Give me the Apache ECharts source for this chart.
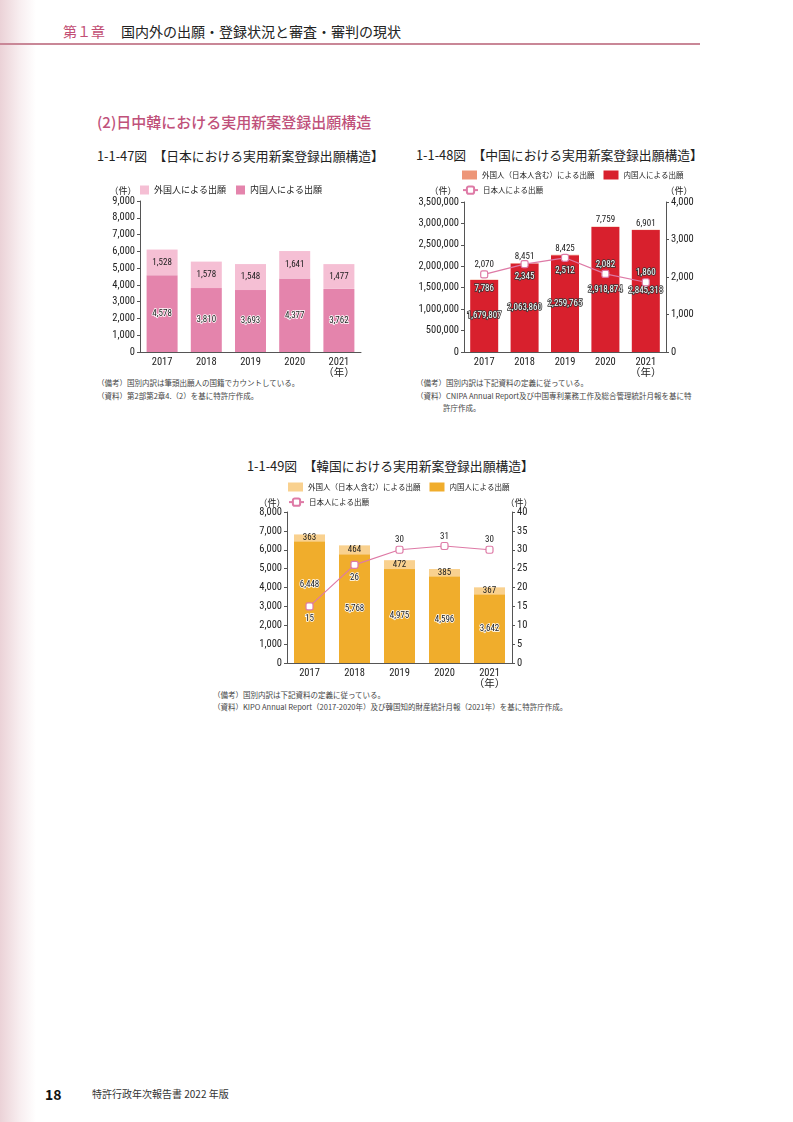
<!DOCTYPE html>
<html><head><meta charset="utf-8">
<script src="https://cdn.jsdelivr.net/npm/echarts@6/dist/echarts.min.js"></script>
<style>
html,body{margin:0;padding:0;background:#fff;}
#page{position:relative;width:793px;height:1122px;overflow:hidden;font-family:"Noto Sans CJK JP",sans-serif;color:#222;}
.t{position:absolute;white-space:nowrap;line-height:1;}
#strip{position:absolute;left:0;top:0;width:36px;height:1122px;background:linear-gradient(to right,#ebd2d7,#f8eef0 55%,#fff);}
#rule{position:absolute;left:0;top:43px;width:700px;height:1.5px;background:#c98797;}
#chart{position:absolute;left:0;top:0;width:793px;height:1122px;}
.note{font-size:7.5px;color:#444;}
.ttl{font-size:12.8px;color:#222;}
</style></head>
<body>
<div id="page">
  <div id="strip"></div>
  <div class="t" style="left:63px;top:24px;font-size:14px;color:#c24e74;">第１章</div>
  <div class="t" style="left:121px;top:24px;font-size:14px;color:#222;">国内外の出願・登録状況と審査・審判の現状</div>
  <div id="rule"></div>
  <div class="t" style="left:97px;top:114px;font-size:15px;color:#c0517a;font-weight:500;">(2)日中韓における実用新案登録出願構造</div>

  <div class="t ttl" style="left:97px;top:150px;">1-1-47図　【日本における実用新案登録出願構造】</div>
  <div class="t ttl" style="left:416px;top:149px;">1-1-48図　【中国における実用新案登録出願構造】</div>
  <div class="t ttl" style="left:247px;top:460px;">1-1-49図　【韓国における実用新案登録出願構造】</div>

  <div class="t note" style="left:97px;top:379px;">（備考）国別内訳は筆頭出願人の国籍でカウントしている。</div>
  <div class="t note" style="left:97px;top:392px;">（資料）第2部第2章4.（2）を基に特許庁作成。</div>

  <div class="t note" style="left:416px;top:379px;">（備考）国別内訳は下記資料の定義に従っている。</div>
  <div class="t note" style="left:416px;top:392px;">（資料）CNIPA Annual Report及び中国専利業務工作及総合管理統計月報を基に特</div>
  <div class="t note" style="left:443px;top:404px;">許庁作成。</div>

  <div class="t note" style="left:213px;top:691px;">（備考）国別内訳は下記資料の定義に従っている。</div>
  <div class="t note" style="left:213px;top:703px;">（資料）KIPO Annual Report（2017-2020年）及び韓国知的財産統計月報（2021年）を基に特許庁作成。</div>

  <div class="t" style="left:45px;top:1087px;font-size:14px;font-weight:bold;color:#111;">18</div>
  <div class="t" style="left:92px;top:1089px;font-size:10px;color:#333;">特許行政年次報告書 2022 年版</div>

  <div id="chart"></div>
</div>
<script>
// ---- data ----
const years = ['2017', '2018', '2019', '2020', '2021'];
const jpForeign = [1528, 1578, 1548, 1641, 1477];
const jpDomestic = [4578, 3810, 3693, 4377, 3762];
const cnForeign = [7786, 8451, 8425, 7759, 6901];
const cnDomestic = [1679807, 2063860, 2259765, 2918874, 2845318];
const cnJapanese = [2070, 2345, 2512, 2082, 1860];
const krForeign = [363, 464, 472, 385, 367];
const krDomestic = [6448, 5768, 4975, 4596, 3642];
const krJapanese = [15, 26, 30, 31, 30];
const legendNames = {
  jp_foreign: '外国人による出願',
  jp_domestic: '内国人による出願',
  cn_foreign: '外国人（日本人含む）による出願',
  cn_domestic: '内国人による出願',
  cn_japanese: '日本人による出願',
  kr_foreign: '外国人（日本人含む）による出願',
  kr_domestic: '内国人による出願',
  kr_japanese: '日本人による出願'
};

// ---- font choice: a condensed face for numbers if one is installed ----
const ctx = document.createElement('canvas').getContext('2d');
const SAMPLE = '3,500,000 0123456789';
function w(font) { ctx.font = font; return ctx.measureText(SAMPLE).width; }
function pickCondensed() {
  const fams = ['Liberation Sans Narrow', 'Roboto Condensed', 'Noto Sans Condensed', 'Open Sans Condensed', 'Arial Narrow'];
  for (const f of fams) {
    const a = w('20px monospace'), b = w('20px "' + f + '", monospace');
    const c = w('20px serif'), d = w('20px "' + f + '", serif');
    if (Math.abs(a - b) > 0.5 || Math.abs(c - d) > 0.5) return {style: '', family: "'" + f + "'"};
  }
  for (const f of ['Noto Sans', 'Open Sans', 'Roboto', 'Inter']) {
    const a = w('20px "' + f + '"'), b = w('condensed 20px "' + f + '"');
    if (b < a * 0.95) return {style: 'condensed', family: "'" + f + "'"};
  }
  return null;
}
const cond = pickCondensed();
const NUM = (cond ? cond.family + ',' : '') + "'Noto Sans CJK JP',sans-serif";
const NUMSTYLE = cond ? cond.style : '';
const NUMSIZE = cond ? 10.5 : 9.5;
const LBLSIZE = cond ? 9 : 8.5;
const CJK = "'Noto Sans CJK JP',sans-serif";

// ---- styles ----
const fmt = v => Number(v).toLocaleString('en-US');
const darkHalo = {color: '#222', textBorderColor: '#fff', textBorderWidth: 1.5};
const whiteOutline = {color: '#fff', textBorderColor: '#333', textBorderWidth: 1.5};
const plain = {color: '#222', textBorderWidth: 0};
const lblBase = {show: true, fontSize: LBLSIZE, fontFamily: NUM, fontStyle: NUMSTYLE, formatter: p => fmt(p.value)};
const pink = '#de7aa6';

function xa(gi) {
  return {
    type: 'category', gridIndex: gi, data: years,
    axisLine: {lineStyle: {color: '#555', width: 1}},
    axisTick: {show: false},
    axisLabel: {fontSize: NUMSIZE, color: '#222', margin: 5, fontFamily: NUM, fontStyle: NUMSTYLE,
      lineHeight: 11, interval: 0, hideOverlap: false,
      formatter: v => v === years[years.length - 1] ? v + '\n（年）' : v}
  };
}
function ya(gi, max, interval, position, gap, pad) {
  return {
    type: 'value', gridIndex: gi, min: 0, max: max, interval: interval, position: position,
    name: '（件）', nameLocation: 'end', nameGap: gap,
    nameTextStyle: {fontSize: 9, color: '#222', fontFamily: CJK, padding: pad},
    axisLine: {show: true, lineStyle: {color: '#555', width: 1}},
    axisTick: {show: true, length: 3, lineStyle: {color: '#555'}},
    splitLine: {show: false},
    axisLabel: {fontSize: NUMSIZE, color: '#222', margin: 5, fontFamily: NUM, fontStyle: NUMSTYLE, formatter: fmt}
  };
}
function withLabels(values, styles) {
  return values.map((v, i) => styles[i] ? {value: v, label: styles[i]} : v);
}
function lineSeries(name, xi, yi, values, positions, colors) {
  return {
    name: name, type: 'line', xAxisIndex: xi, yAxisIndex: yi, z: 10,
    symbol: 'roundRect', symbolSize: 7,
    itemStyle: {color: '#fff', borderColor: pink, borderWidth: 1.2},
    lineStyle: {color: pink, width: 1.2},
    label: Object.assign({}, lblBase),
    data: values.map((v, i) => ({value: v, label: Object.assign(
      {position: positions[i], distance: positions[i] === 'top' ? 1 : 4}, colors[i])}))
  };
}
const legendCommon = {padding: 0, selectedMode: false, formatter: n => legendNames[n]};
const lgText = sz => ({textStyle: {fontFamily: CJK, color: '#222', fontSize: sz}});

const option = {
  animation: false,
  textStyle: {fontFamily: NUM},
  grid: [
    {left: 140, top: 201, width: 221, height: 151},
    {left: 464, top: 202, width: 202, height: 150},
    {left: 287, top: 512, width: 225, height: 151}
  ],
  xAxis: [xa(0), xa(1), xa(2)],
  yAxis: [
    ya(0, 9000, 1000, 'left', 6, [0, 34, 0, 0]),
    ya(1, 3500000, 500000, 'left', 7, [0, 42, 0, 0]),
    ya(1, 4000, 1000, 'right', 7, [0, 0, 0, 26]),
    ya(2, 8000, 1000, 'left', 5, [0, 30, 0, 0]),
    ya(2, 40, 5, 'right', 5, [0, 0, 0, 14])
  ],
  legend: [
    Object.assign({left: 140, top: 185.5, itemWidth: 9, itemHeight: 9, itemGap: 10, icon: 'rect',
      data: ['jp_foreign', 'jp_domestic']}, legendCommon, lgText(9)),
    Object.assign({left: 462, top: 170.5, itemWidth: 15, itemHeight: 9, itemGap: 9, icon: 'rect',
      data: ['cn_foreign', 'cn_domestic']}, legendCommon, lgText(7.5)),
    Object.assign({left: 462, top: 185.5, itemWidth: 15, itemHeight: 9,
      data: ['cn_japanese']}, legendCommon, lgText(7.5)),
    Object.assign({left: 288, top: 482.5, itemWidth: 15, itemHeight: 9, itemGap: 9, icon: 'rect',
      data: ['kr_foreign', 'kr_domestic']}, legendCommon, lgText(7.5)),
    Object.assign({left: 288, top: 497.5, itemWidth: 15, itemHeight: 9,
      data: ['kr_japanese']}, legendCommon, lgText(7.5))
  ],
  series: [
    // Japan
    {name: 'jp_domestic', type: 'bar', xAxisIndex: 0, yAxisIndex: 0, stack: 'jp', barWidth: 31,
      itemStyle: {color: '#e484ac'}, data: jpDomestic,
      label: Object.assign({position: 'inside'}, lblBase, darkHalo)},
    {name: 'jp_foreign', type: 'bar', xAxisIndex: 0, yAxisIndex: 0, stack: 'jp', barWidth: 31,
      itemStyle: {color: '#f5bfd4'}, data: jpForeign,
      label: Object.assign({position: 'inside'}, lblBase, plain)},
    // China
    {name: 'cn_domestic', type: 'bar', xAxisIndex: 1, yAxisIndex: 1, stack: 'cn', barWidth: 28,
      itemStyle: {color: '#d8202d'}, data: cnDomestic,
      label: Object.assign({position: 'inside'}, lblBase, whiteOutline)},
    {name: 'cn_foreign', type: 'bar', xAxisIndex: 1, yAxisIndex: 1, stack: 'cn', barWidth: 28,
      itemStyle: {color: '#ed9678'},
      data: withLabels(cnForeign, [Object.assign({position: 'insideTop', distance: 5}, whiteOutline)]),
      label: Object.assign({position: 'top', distance: 2}, lblBase, plain)},
    lineSeries('cn_japanese', 1, 2, cnJapanese,
      ['top', 'bottom', 'bottom', 'top', 'top'],
      [plain, whiteOutline, whiteOutline, whiteOutline, whiteOutline]),
    // Korea
    {name: 'kr_domestic', type: 'bar', xAxisIndex: 2, yAxisIndex: 3, stack: 'kr', barWidth: 31,
      itemStyle: {color: '#f0ad2c'},
      data: withLabels(krDomestic, [Object.assign({position: 'inside', offset: [0, -17]}, darkHalo)]),
      label: Object.assign({position: 'inside'}, lblBase, darkHalo)},
    {name: 'kr_foreign', type: 'bar', xAxisIndex: 2, yAxisIndex: 3, stack: 'kr', barWidth: 31,
      itemStyle: {color: '#f9d18f'}, data: krForeign,
      label: Object.assign({position: 'inside'}, lblBase, plain)},
    lineSeries('kr_japanese', 2, 4, krJapanese,
      ['bottom', 'bottom', 'top', 'top', 'top'],
      [darkHalo, darkHalo, plain, plain, plain])
  ]
};
const chart = echarts.init(document.getElementById('chart'), null, {renderer: 'canvas'});
chart.setOption(option);
</script>
</body></html>
